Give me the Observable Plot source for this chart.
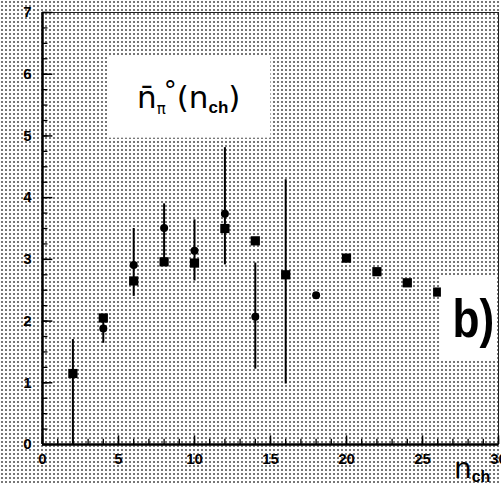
<!DOCTYPE html>
<html>
<head>
<meta charset="utf-8">
<script src="https://cdn.jsdelivr.net/npm/d3@7"></script>
<script src="https://cdn.jsdelivr.net/npm/@observablehq/plot@0.6"></script>
<style>
  html, body { margin: 0; padding: 0; background: white; }
  #chart svg { display: block; }
</style>
</head>
<body>
<div id="chart"></div>
<script>
// Series A: small round markers
const xA = [4, 6, 8, 10, 12, 14, 18];
const yA = [1.88, 2.91, 3.51, 3.14, 3.74, 2.07, 2.42];
// Series B: square markers
const xB = [2, 4, 6, 8, 10, 12, 14, 16, 20, 22, 24, 26];
const yB = [1.15, 2.05, 2.65, 2.96, 2.94, 3.50, 3.30, 2.75, 3.02, 2.80, 2.62, 2.47];
// Error bars
const errX  = [2, 4, 6, 8, 10, 12, 14, 16];
const errLo = [0.0, 1.64, 2.40, 2.96, 2.65, 2.91, 1.22, 0.98];
const errHi = [1.70, 2.10, 3.50, 3.90, 3.64, 4.81, 2.94, 4.29];
// Ticks
const xMajor = [0, 5, 10, 15, 20, 25, 30];
const xMinor = d3.range(0, 31, 1);
const yMajor = [0, 1, 2, 3, 4, 5, 6, 7];
const yMinor = d3.range(0, 7.01, 0.25);

const A = xA.map((x, i) => ({x, y: yA[i]}));
const B = xB.map((x, i) => ({x, y: yB[i]}));
const E = errX.map((x, i) => ({x, lo: errLo[i], hi: errHi[i]}));

const plot = Plot.plot({
  width: 501, height: 485,
  marginLeft: 42, marginRight: 3, marginTop: 12, marginBottom: 41,
  x: {domain: [0, 30]},
  y: {domain: [0, 7]},
  style: {
    background: "white",
    backgroundImage: "radial-gradient(circle, #777 0.8px, rgba(255,255,255,0) 1.25px)",
    backgroundSize: "4px 4px",
    fontFamily: "'Liberation Sans', Arial, sans-serif",
    color: "black"
  },
  marks: [
    Plot.frame({stroke: "#222", strokeWidth: 1}),
    Plot.axisX({ticks: xMajor, tickFormat: d3.format("d"), tickSize: 0, tickPadding: 9, fontSize: 15, fontWeight: "bold", label: null}),
    Plot.axisY({ticks: yMajor, tickFormat: d3.format("d"), tickSize: 0, tickPadding: 11, fontSize: 15, fontWeight: "bold", label: null}),
    Plot.ruleX(xMinor, {x: d => d, y1: 0, y2: 0.085, strokeWidth: 1.3}),
    Plot.ruleX(xMajor, {x: d => d, y1: 0, y2: 0.14, strokeWidth: 1.5}),
    Plot.ruleY(yMinor, {y: d => d, x1: 0, x2: 0.36, strokeWidth: 1.3}),
    Plot.ruleY(yMajor, {y: d => d, x1: 0, x2: 0.68, strokeWidth: 1.5}),
    Plot.ruleX([0], {strokeWidth: 2.5}),
    Plot.ruleY([0], {strokeWidth: 2.5}),
    Plot.ruleX(E, {x: "x", y1: "lo", y2: "hi", strokeWidth: 2, stroke: "black"}),
    Plot.dot(B, {x: "x", y: "y", symbol: "square", r: 5.2, fill: "black"}),
    Plot.dot(A, {x: "x", y: "y", r: 4, fill: "black"})
  ]
});
document.getElementById("chart").appendChild(plot);

const sx = plot.scale("x"), sy = plot.scale("y");
const svg = d3.select(plot);
const under = svg.insert("g", ":first-child");

function label(xv, yv, build, padX, padY) {
  const t = svg.append("text").attr("text-anchor", "start")
    .attr("x", sx.apply(xv)).attr("y", sy.apply(yv));
  build(t);
  const bb = t.node().getBBox();
  const x0 = bb.x - padX;
  const x1 = Math.min(499, bb.x + bb.width + padX);
  under.append("rect")
    .attr("x", x0).attr("y", bb.y - padY)
    .attr("width", x1 - x0).attr("height", bb.height + 2 * padY)
    .attr("fill", "white");
}

// Title  n̄π°(nch)
label(6.25, 5.45, t => {
  t.attr("font-family", "'DejaVu Sans', sans-serif")
   .attr("font-size", 31).attr("fill", "black");
  t.append("tspan").text("n\u0304");
  t.append("tspan").attr("font-size", 15).attr("dy", 6).text("\u03c0");
  t.append("tspan").attr("dy", -14).attr("font-size", 26).attr("dx", -2).text("\u00b0");
  t.append("tspan").attr("dy", 8).attr("font-size", 31).text("(n");
  t.append("tspan").attr("font-size", 17).attr("font-weight", "bold").attr("font-family", "'Liberation Sans', Arial").attr("dy", 5).text("ch");
  t.append("tspan").attr("font-size", 31).attr("dy", -5).text(")");
}, 30, 20);

// b)  — horizontally condensed bold label
{
  const bx = sx.apply(27.0), by = sy.apply(1.73);
  const g = svg.append("g").attr("transform", `translate(${bx},${by}) scale(0.82,1)`);
  const t = g.append("text").attr("text-anchor", "start").attr("x", 0).attr("y", 0)
    .attr("font-family", "'Liberation Sans', Arial, sans-serif").attr("font-weight", "bold")
    .attr("font-size", 54).attr("fill", "black").text("b)");
  const bb = t.node().getBBox();
  g.insert("rect", "text")
    .attr("x", bb.x - 14).attr("y", bb.y - 12)
    .attr("width", bb.width + 16).attr("height", bb.height + 24)
    .attr("fill", "white");
}

// axis label nch
svg.append("text").attr("text-anchor", "start")
  .attr("x", sx.apply(27.1)).attr("y", sy.apply(-0.55))
  .attr("font-family", "'DejaVu Sans', sans-serif")
  .attr("font-size", 28).attr("fill", "black")
  .call(t => {
    t.append("tspan").text("n");
    t.append("tspan").attr("font-size", 16).attr("dy", 4)
     .attr("font-family", "'Liberation Sans', Arial").attr("font-weight", "bold").text("ch");
  });
</script>
</body>
</html>
